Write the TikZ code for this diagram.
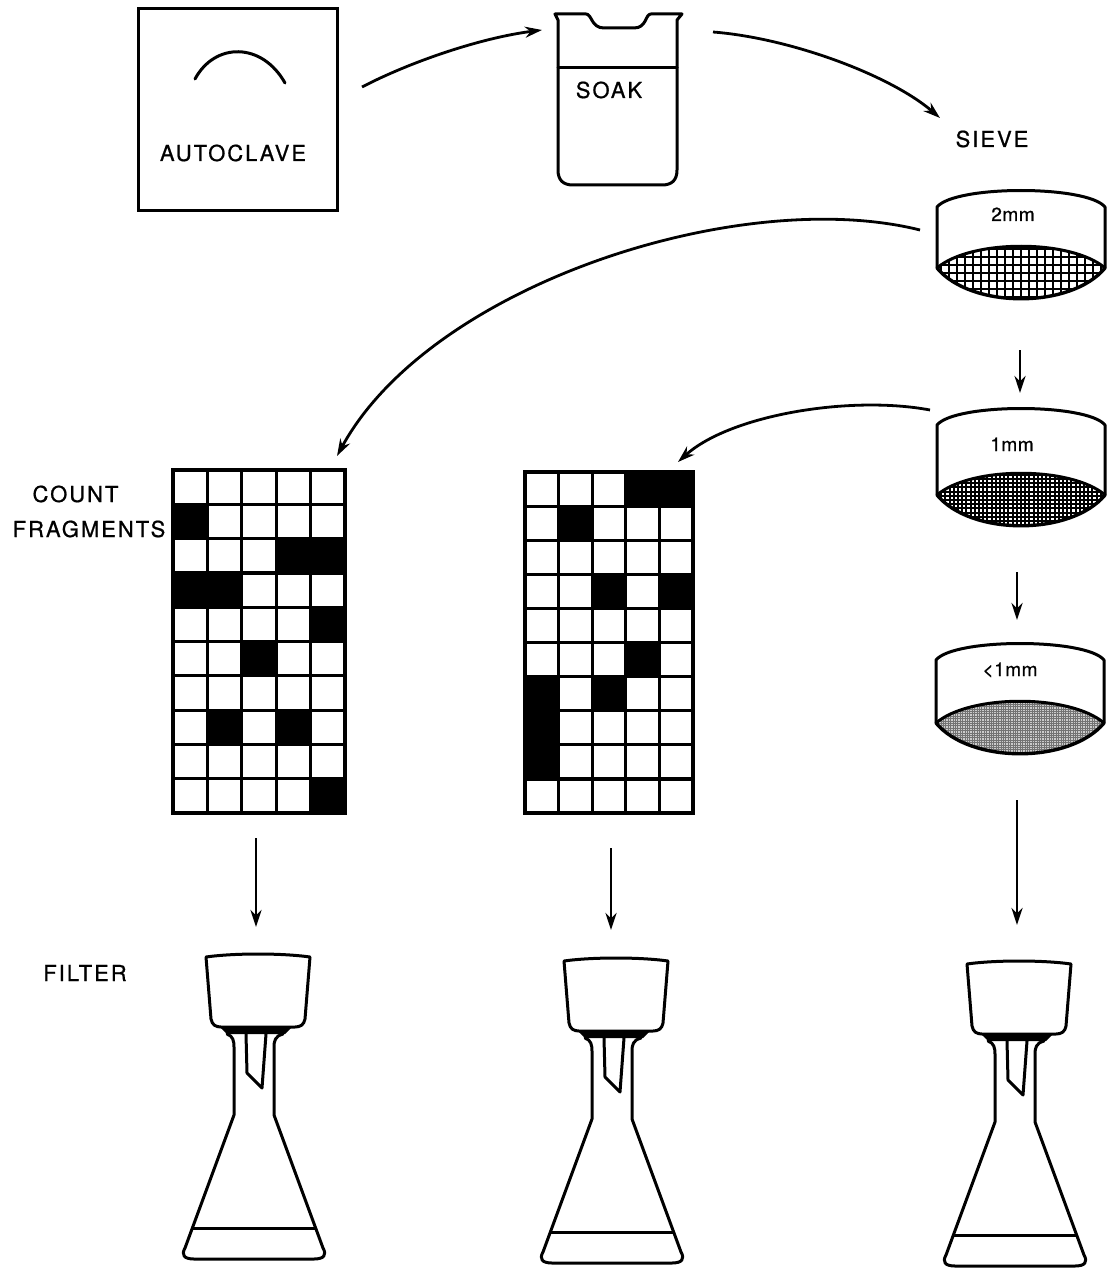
\documentclass[tikz,border=0pt]{standalone}
\usepackage{fontspec}
\setmainfont{TeX Gyre Heros}
\newfontfamily\labelfont{TeX Gyre Heros}[LetterSpace=9, FakeBold=0.8]
\newfontfamily\meshfont{TeX Gyre Heros}[LetterSpace=3, FakeBold=0.8]
\usetikzlibrary{arrows.meta}

% sieve drum: centre x, y of top corners, y of mesh corners, mesh pitch, mesh line width, mesh colour, mesh background
\newcommand\sievedrum[7]{%
  \fill[#7] (#1-84,#3) .. controls (#1-50,#3-29) and (#1+50,#3-29) .. (#1+84,#3)
       .. controls (#1+50,#3+41) and (#1-50,#3+41) .. (#1-84,#3) -- cycle;
  \begin{scope}
    \clip (#1-84,#3) .. controls (#1-50,#3-29) and (#1+50,#3-29) .. (#1+84,#3)
       .. controls (#1+50,#3+41) and (#1-50,#3+41) .. (#1-84,#3) -- cycle;
    \foreach \k in {-40,...,40}{
      \draw[line width=#5, #6] (#1+\k*#4, #3-30) -- (#1+\k*#4, #3+40);
      \draw[line width=#5, #6] (#1-90, #3+5+\k*#4) -- (#1+90, #3+5+\k*#4);
    }
  \end{scope}
  \draw[outline] (#1-84,#3) -- (#1-84,#2) .. controls (#1-66,#2-22) and (#1+66,#2-22) .. (#1+84,#2) -- (#1+84,#3);
  \draw[outline] (#1-84,#3) .. controls (#1-50,#3-29) and (#1+50,#3-29) .. (#1+84,#3);
  \draw[outline, line width=3.4pt] (#1-84,#3) .. controls (#1-50,#3+41) and (#1+50,#3+41) .. (#1+84,#3);
}

% counting tray: left x, top y, cell width, cell height, list of dark cells row/col
\newcommand\fragmenttray[5]{%
  \foreach \r/\c in {#5}{
    \fill (#1+\c*#3, #2+\r*#4) rectangle ++(#3,#4);
  }
  \foreach \i in {0,...,5}{ \draw[trayline] (#1+\i*#3, #2) -- ++(0,10*#4); }
  \foreach \j in {0,...,10}{ \draw[trayline] (#1, #2+\j*#4) -- ++(5*#3,0); }
}

\begin{document}
\begin{tikzpicture}[x=1pt, y=-1pt,
  outline/.style={line width=3pt, line join=round, line cap=round},
  trayline/.style={line width=3.2pt, line cap=rect},
  flow/.style={line width=2.8pt, -{Stealth[length=17pt, width=11pt]}},
  caption/.style={font=\labelfont\fontsize{22}{22}\selectfont, inner sep=0pt, anchor=base},
  meshlabel/.style={font=\meshfont\fontsize{19}{19}\selectfont, inner sep=0pt, anchor=base},
  pics/flask/.style={code={
    % Buchner funnel
    \draw[outline, fill=white] (-48,-70) .. controls (-20,-74) and (28,-74) .. (56,-70)
      -- (51,-8) .. controls (50,-2) and (46,0) .. (41,0) -- (-33,0)
      .. controls (-38,0) and (-42,-2) .. (-43,-8) -- cycle;
    % rubber adapter
    \fill (-35,-1) -- (39,-1) -- (31,7) -- (-27,7) -- cycle;
    % flask body
    \draw[outline] (-27,7) .. controls (-21,9) and (-20,14) .. (-20,20) -- (-20,88)
      -- (-69,221) .. controls (-73,228) and (-70,232) .. (-60,232) -- (60,232)
      .. controls (70,232) and (73,228) .. (69,221) -- (20,88) -- (20,20)
      .. controls (20,14) and (21,9) .. (29,7);
    % filtrate level
    \draw[outline] (-61.3,201) -- (61.3,201);
    % funnel stem
    \draw[outline] (-8,7) -- (-7,46) -- (8,61) -- (12,7);
  }}
]
\useasboundingbox (0,0) rectangle (1112,1273);

% autoclave
\node[draw, line width=3pt, minimum width=199pt, minimum height=202pt, inner sep=0pt] (autoclavebox) at (237.5,110) {};
\draw[outline] (195,79) .. controls (215,42) and (262,42) .. (285,83);
\node[caption] (autoclave) at (233,161) {AUTOCLAVE};

% soaking beaker
\draw[outline] (555,14) -- (586,14) .. controls (592,14) and (591,28) .. (604,28) -- (634,28)
  .. controls (647,28) and (645,14) .. (651,14) -- (682,14) -- (677,20) -- (677,170)
  .. controls (677,180) and (672,185) .. (662,185) -- (573,185)
  .. controls (563,185) and (558,180) .. (558,170) -- (558,20) -- cycle;
\draw[outline] (558,68) -- (677,68);
\node[caption] (soak) at (609,98) {SOAK};

% sieves
\node[caption] (sieve) at (992,147) {SIEVE};
\sievedrum{1021}{207}{268}{8}{2pt}{black}{white}
\node[meshlabel] (mesh2) at (1013,221) {2mm};
\sievedrum{1021}{425}{495}{4.2}{2pt}{black}{white}
\node[meshlabel] (mesh1) at (1012,451) {1mm};
\sievedrum{1020}{660}{723}{2.4}{0.5pt}{black!55}{black!20}
\node[meshlabel] (mesh0) at (1010,676) {<1mm};

% counting trays
\node[caption] (count) at (75.5,502) {COUNT};
\node[caption] (fragments) at (89,537) {FRAGMENTS};
\fragmenttray{173}{470}{34.4}{34.3}{1/0,2/3,2/4,3/0,3/1,4/4,5/2,7/1,7/3,9/4}
\fragmenttray{525}{472}{33.6}{34.1}{0/3,0/4,1/1,3/2,3/4,5/3,6/0,6/2,7/0,8/0}

% filtration
\node[caption] (filter) at (85,981) {FILTER};
\pic (flaskA) at (254,1027) {flask};
\pic (flaskB) at (612,1031) {flask};
\pic (flaskC) at (1015,1034) {flask};

% connector end points
\coordinate (autoOut) at (362,87);
\coordinate (soakIn) at (542,30);
\coordinate (soakOut) at (713,32);
\coordinate (sieveIn) at (940,118);
\coordinate (coarseOut) at (920,230);
\coordinate (trayAIn) at (337,456);
\coordinate (mediumOut) at (930,410);
\coordinate (trayBIn) at (678,462);
\coordinate (coarseDown) at (1020,350);
\coordinate (mediumIn) at (1020,393);
\coordinate (mediumDown) at (1017,572);
\coordinate (fineIn) at (1017,620);
\coordinate (fineDown) at (1017,800);
\coordinate (flaskCIn) at (1017,925);
\coordinate (trayAOut) at (256,838);
\coordinate (flaskAIn) at (256,927);
\coordinate (trayBOut) at (611,848);
\coordinate (flaskBIn) at (611,930);

% process arrows
\draw[flow] (autoOut) .. controls (410,62) and (480,38) .. (soakIn);
\draw[flow] (soakOut) .. controls (790,38) and (890,75) .. (sieveIn);
\draw[flow] (coarseOut) .. controls (740,185) and (430,285) .. (trayAIn);
\draw[flow] (mediumOut) .. controls (850,395) and (730,415) .. (trayBIn);
\draw[flow] (coarseDown) -- (mediumIn);
\draw[flow] (mediumDown) -- (fineIn);
\draw[flow] (fineDown) -- (flaskCIn);
\draw[flow] (trayAOut) -- (flaskAIn);
\draw[flow] (trayBOut) -- (flaskBIn);
\end{tikzpicture}
\end{document}
